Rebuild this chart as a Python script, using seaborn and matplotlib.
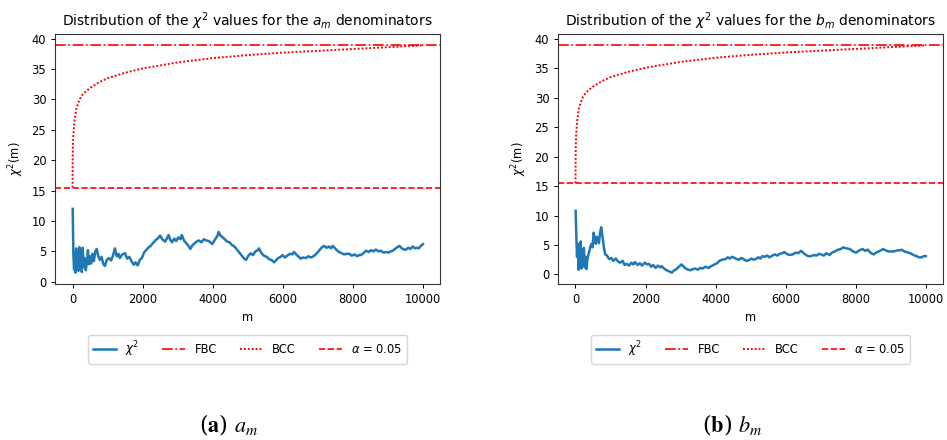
import matplotlib
matplotlib.use('Agg')
import matplotlib.pyplot as plt
import pandas as pd
import seaborn as sns

# chi^2 running values (a_m denominators)
m_a = [5, 25, 45, 65, 85, 105, 125, 150, 170, 195, 215, 240, 265, 290, 320, 350, 380, 410, 440, 470,
       500, 530, 570, 610, 650, 690, 730, 780, 830, 880, 925, 980, 1040, 1100, 1160, 1210, 1260, 1310,
       1350, 1420, 1500, 1560, 1620, 1690, 1750, 1800, 1860, 1920, 1980, 2040, 2100, 2160, 2230, 2300,
       2360, 2430, 2500, 2560, 2640, 2700, 2740, 2790, 2840, 2900, 2960, 3020, 3080, 3120, 3180, 3250,
       3310, 3360, 3420, 3480, 3540, 3600, 3680, 3750, 3820, 3890, 3950, 3990, 4060, 4130, 4170, 4220,
       4290, 4360, 4420, 4480, 4540, 4600, 4650, 4720, 4790, 4850, 4900, 4950, 5010, 5080, 5150, 5220,
       5290, 5320, 5380, 5460, 5540, 5620, 5700, 5750, 5800, 5870, 5940, 5990, 6060, 6130, 6200, 6270,
       6320, 6400, 6460, 6510, 6580, 6660, 6730, 6800, 6850, 6920, 6990, 7060, 7120, 7180, 7250, 7320,
       7380, 7420, 7480, 7540, 7610, 7680, 7750, 7820, 7900, 7970, 8050, 8120, 8180, 8230, 8300, 8380,
       8450, 8520, 8590, 8660, 8730, 8800, 8870, 8950, 9020, 9080, 9140, 9200, 9270, 9330, 9400, 9460,
       9520, 9580, 9640, 9710, 9770, 9830, 9880, 9940, 10000]
chi_a = [12.0, 4.6, 2.0, 4.8, 1.5, 5.5, 2.3, 4.0, 1.8, 5.7, 2.5, 4.5, 1.6, 5.6, 2.4, 3.9, 1.9, 3.2, 5.2, 2.9,
         4.2, 3.0, 4.6, 3.4, 5.0, 5.4, 4.3, 3.6, 4.1, 2.9, 2.6, 3.6, 3.9, 3.5, 4.4, 5.5, 4.2, 4.6,
         3.9, 4.5, 4.7, 3.8, 4.1, 3.3, 2.8, 3.2, 2.7, 3.6, 3.9, 4.8, 5.2, 5.6, 5.9, 6.4,
         6.8, 7.1, 7.6, 7.0, 6.6, 7.2, 7.7, 6.9, 6.5, 7.1, 6.7, 7.3, 7.0, 7.7, 6.8, 6.3,
         5.9, 5.4, 6.0, 6.3, 6.6, 6.8, 6.5, 7.0, 6.8, 6.7, 6.4, 6.2, 6.9, 7.5, 8.2, 7.6,
         7.3, 6.9, 6.6, 6.5, 6.1, 5.9, 5.6, 5.1, 4.6, 4.2, 3.8, 3.6, 4.2, 4.7, 4.4, 5.0,
         5.2, 5.5, 4.8, 4.3, 4.1, 3.7, 3.5, 3.2, 3.5, 3.9, 4.1, 4.4, 4.0, 4.3, 4.6, 4.5,
         4.9, 4.4, 4.1, 3.8, 4.0, 3.9, 4.2, 4.0, 4.1, 4.4, 4.8, 5.3, 5.7, 5.9, 5.6, 5.8,
         5.5, 5.9, 5.6, 5.2, 4.9, 4.7, 4.5, 4.6, 4.6, 4.3, 4.5, 4.2, 4.4, 4.4, 4.7, 5.1,
         4.9, 5.2, 5.0, 5.3, 5.0, 5.1, 4.8, 4.9, 4.8, 5.0, 5.1, 5.4, 5.7, 5.9, 5.5, 5.3,
         5.3, 5.6, 5.4, 5.8, 5.5, 5.6, 5.5, 5.9, 6.2]

# chi^2 running values (b_m denominators)
m_b = [5, 25, 45, 65, 90, 110, 130, 150, 170, 195, 220, 240, 265, 290, 310, 340, 370, 400, 430, 460,
       490, 520, 550, 580, 610, 640, 670, 700, 735, 770, 810, 850, 900, 960, 1020, 1080, 1150, 1215,
       1280, 1350, 1400, 1460, 1530, 1600, 1650, 1700, 1770, 1840, 1900, 1980, 2040, 2100, 2160, 2220,
       2290, 2350, 2420, 2460, 2530, 2600, 2680, 2750, 2820, 2880, 2950, 3030, 3090, 3150, 3220, 3280,
       3350, 3420, 3490, 3560, 3630, 3700, 3760, 3800, 3870, 3940, 4040, 4110, 4180, 4280, 4350, 4410,
       4470, 4540, 4600, 4660, 4730, 4800, 4870, 4950, 5020, 5080, 5140, 5220, 5280, 5330, 5400, 5470,
       5540, 5620, 5690, 5760, 5830, 5900, 5960, 6030, 6100, 6200, 6280, 6350, 6440, 6510, 6580, 6650,
       6720, 6800, 6880, 6950, 7010, 7090, 7160, 7250, 7320, 7400, 7490, 7570, 7640, 7680, 7760, 7830,
       7900, 7960, 8010, 8080, 8140, 8200, 8270, 8340, 8400, 8440, 8510, 8580, 8650, 8720, 8780, 8850,
       8930, 9000, 9070, 9140, 9210, 9270, 9310, 9380, 9450, 9500, 9550, 9620, 9680, 9740, 9800, 9880,
       9940, 10000]
chi_b = [10.8, 6.5, 3.0, 5.2, 0.8, 3.5, 1.8, 5.6, 1.0, 3.8, 1.5, 4.5, 1.2, 3.0, 0.9, 2.5, 3.4, 4.0, 4.8, 5.2,
         4.6, 7.1, 6.0, 5.2, 6.4, 6.1, 5.3, 7.0, 8.0, 6.5, 4.6, 3.4, 3.2, 2.6, 2.8, 2.3, 2.7, 2.2,
         2.0, 2.3, 1.6, 1.8, 1.5, 2.0, 1.7, 2.1, 1.6, 1.9, 1.5, 2.0, 1.7, 1.8, 1.3, 1.6,
         1.1, 1.5, 1.2, 1.4, 1.0, 0.7, 0.5, 0.3, 0.7, 0.9, 1.3, 1.7, 1.3, 1.0, 0.8, 0.7,
         0.9, 1.0, 0.8, 1.1, 1.0, 1.3, 1.2, 1.1, 1.4, 1.6, 1.9, 2.3, 2.5, 2.6, 2.9, 2.7,
         3.0, 2.8, 2.6, 2.5, 2.8, 2.6, 2.3, 2.4, 2.7, 2.5, 2.6, 2.9, 2.7, 3.1, 3.0, 3.2,
         2.9, 3.2, 3.4, 3.2, 3.5, 3.6, 3.8, 3.5, 3.3, 3.4, 3.7, 3.6, 4.0, 3.6, 3.3, 3.1,
         3.1, 3.3, 3.2, 3.5, 3.4, 3.2, 3.6, 3.3, 3.7, 3.9, 4.2, 4.3, 4.6, 4.5, 4.4, 4.3,
         4.0, 3.8, 3.7, 4.0, 4.2, 4.3, 4.0, 4.2, 3.8, 3.6, 3.4, 3.7, 3.9, 4.1, 4.3, 4.1,
         3.9, 3.9, 3.9, 4.0, 4.1, 4.1, 4.2, 3.9, 3.8, 3.7, 3.6, 3.4, 3.2, 3.1, 2.9, 2.9,
         3.1, 3.1]

# Bonferroni corrected critical value (BCC), same curve in both panels
m_bcc = [1, 2, 5, 10, 20, 50, 100, 200, 300, 500, 750, 1000, 1500, 2000, 3000, 4000, 5000,
         6000, 7000, 8000, 9000, 10000]
bcc = [15.5, 17.5, 20.1, 22.0, 23.8, 26.1, 28.3, 30.0, 30.9, 31.9, 32.8, 33.5, 34.4, 35.1, 36.1,
       36.8, 37.3, 37.7, 38.0, 38.3, 38.6, 38.9]

fbc = 38.9      # full Bonferroni critical value
crit = 15.5     # alpha = 0.05

panels = [('a', m_a, chi_a, 0.242), ('b', m_b, chi_b, 0.773)]

plt.rcParams.update({
    'font.size': 8.3,
    'axes.linewidth': 0.8,
    'xtick.major.size': 2.8, 'ytick.major.size': 2.8,
    'xtick.major.width': 0.7, 'ytick.major.width': 0.7,
    'axes.edgecolor': '#333333',
})

fig = plt.figure(figsize=(9.47, 4.4), dpi=100)
lefts = [0.0581, 0.5892]

for (name, m, chi, cx), left in zip(panels, lefts):
    ax = fig.add_axes([left, 0.3545, 0.407, 0.5682])
    df = pd.DataFrame({'m': m, 'chi2': chi})
    df_bcc = pd.DataFrame({'m': m_bcc, 'bcc': bcc})

    sns.lineplot(x='m', y='chi2', data=df, ax=ax, color='#1f77b4', lw=1.8, label=r'$\chi^2$')
    ax.axhline(fbc, color='red', ls='-.', lw=1.2, label='FBC')
    sns.lineplot(x='m', y='bcc', data=df_bcc, ax=ax, color='red', ls=(0, (1, 1)), lw=1.4, label='BCC')
    ax.axhline(crit, color='red', ls='--', lw=1.2, label=r'$\alpha$ = 0.05')

    ax.set_xlabel('m')
    ax.set_ylabel(r'$\chi^2$(m)')
    ax.set_title(r'Distribution of the $\chi^2$ values for the $%s_m$ denominators' % name, fontsize=10)
    ax.set_yticks([0, 5, 10, 15, 20, 25, 30, 35, 40])
    ax.legend(loc='upper center', bbox_to_anchor=(0.5, -0.18), ncol=4, fontsize=8.3)

    fig.text(cx, 0.036, r'($\mathbf{%s}$) $%s_m$' % (name, name), ha='center', va='center',
             fontsize=16, family='DejaVu Serif', math_fontfamily='stix')

fig.savefig('out.png', dpi=100)
